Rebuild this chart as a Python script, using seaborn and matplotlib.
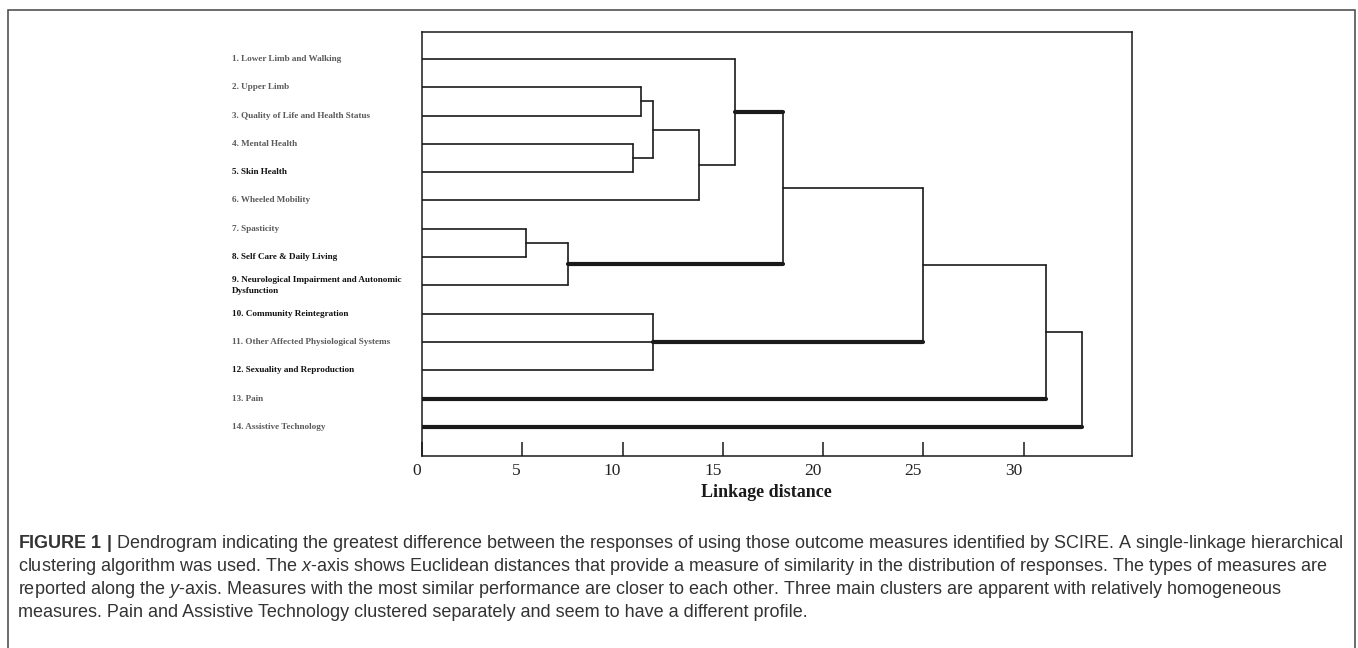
import numpy as np
import pandas as pd
import matplotlib
matplotlib.use("Agg")
import matplotlib.pyplot as plt
import matplotlib.transforms as mtrans
from matplotlib.patches import Rectangle
import seaborn as sns

# ============================
# STYLE
# ============================
sns.set_style("white")
plt.rcParams["font.family"] = ["Liberation Serif", "DejaVu Serif"]
plt.rcParams["mathtext.fontset"] = "custom"
plt.rcParams["mathtext.rm"] = "Liberation Sans"
plt.rcParams["mathtext.it"] = "Liberation Sans:italic"
plt.rcParams["mathtext.bf"] = "Liberation Sans:bold"

# ============================
# DATA
# ============================
leaf_labels = [
    "1. Lower Limb and Walking",
    "2. Upper Limb",
    "3. Quality of Life and Health Status",
    "4. Mental Health",
    "5. Skin Health",
    "6. Wheeled Mobility",
    "7. Spasticity",
    "8. Self Care & Daily Living",
    "9. Neurological Impairment and Autonomic\nDysfunction",
    "10. Community Reintegration",
    "11. Other Affected Physiological Systems",
    "12. Sexuality and Reproduction",
    "13. Pain",
    "14. Assistive Technology",
]
# labels printed darker in the original figure
label_dark = [False, False, False, False, True, False, False,
              True, True, True, False, True, False, False]

# merges: leaves are 0..13, every merge creates node 14, 15, ...
merge_children = [
    (1, 2),        # 14
    (3, 4),        # 15
    (14, 15),      # 16
    (16, 5),       # 17
    (0, 17),       # 18
    (6, 7),        # 19
    (19, 8),       # 20
    (18, 20),      # 21
    (9, 10, 11),   # 22
    (21, 22),      # 23
    (23, 12),      # 24
    (24, 13),      # 25
]
merge_heights = [10.9, 10.5, 11.5, 13.8, 15.6, 5.2, 7.3, 18.0, 11.5, 25.0, 31.1, 32.9]

# branches drawn with a heavy line
bold_branches = [18, 20, 22, 12, 13]

x_ticks = [0, 5, 10, 15, 20, 25, 30]

caption_lines = [
    r"$\mathbf{FIGURE\ 1\ |}$ Dendrogram indicating the greatest difference between the responses of using those outcome measures identified by SCIRE. A single-linkage hierarchical",
    r"clustering algorithm was used. The $\mathit{x}$-axis shows Euclidean distances that provide a measure of similarity in the distribution of responses. The types of measures are",
    r"reported along the $\mathit{y}$-axis. Measures with the most similar performance are closer to each other. Three main clusters are apparent with relatively homogeneous",
    "measures. Pain and Assistive Technology clustered separately and seem to have a different profile.",
]

# ============================
# DENDROGRAM SEGMENTS
# ============================
n = len(leaf_labels)
node_y = {i: i + 1.0 for i in range(n)}
node_h = {i: 0.0 for i in range(n)}
rows = []
seg = 0
for k, (kids, h) in enumerate(zip(merge_children, merge_heights)):
    nid = n + k
    ys = [node_y[c] for c in kids]
    node_y[nid] = float(np.mean(ys))
    node_h[nid] = h
    for c in kids:
        w = "thick" if c in bold_branches else "thin"
        rows += [(seg, node_h[c], node_y[c], w), (seg, h, node_y[c], w)]
        seg += 1
    rows += [(seg, h, min(ys), "thin"), (seg, h, max(ys), "thin")]
    seg += 1
segs = pd.DataFrame(rows, columns=["seg", "dist", "pos", "weight"])

# ============================
# FIGURE
# ============================
fig = plt.figure(figsize=(13.58, 6.48), dpi=100)
ax = fig.add_axes([0.3108, 0.2963, 0.5228, 0.6543])

sns.lineplot(data=segs, x="dist", y="pos", units="seg", estimator=None, sort=False,
             size="weight", sizes={"thin": 1.2, "thick": 3.0},
             color="#1a1a1a", legend=False, ax=ax)

ax.set_xlim(0, 35.4)
ax.set_ylim(15.03, 0.05)
ax.set_yticks([])
ax.set_ylabel("")
ax.set_xticks(x_ticks, [str(t) for t in x_ticks])
ax.tick_params(axis="x", bottom=True, direction="in", length=10, width=1.1,
               color="#1a1a1a", pad=5, labelsize=12.5, labelcolor="#222222")
shift = mtrans.ScaledTranslation(-1.5 / 100, 0, fig.dpi_scale_trans)
for t in ax.xaxis.get_major_ticks():
    t.label1.set_horizontalalignment("right")
    t.label1.set_transform(t.label1.get_transform() + shift)
for sp in ax.spines.values():
    sp.set_visible(True)
    sp.set_linewidth(1.1)
    sp.set_color("#1a1a1a")

ax.set_xlabel("Linkage distance", fontsize=13, fontweight="bold", color="#1a1a1a")
ax.xaxis.set_label_coords(0.485, -0.067)

# leaf labels (left aligned, away from the axis)
for i, lab in enumerate(leaf_labels):
    ax.text(-0.2676, i + 1, lab, transform=ax.get_yaxis_transform(),
            ha="left", va="center", fontsize=6.6, fontweight="bold", linespacing=1.5,
            color="#111111" if label_dark[i] else "#5a5a5a")

# outer frame
fig.add_artist(Rectangle((8 / 1358, -0.1), 1347 / 1358, 1.1 - 10 / 648,
                         transform=fig.transFigure, fill=False, lw=1.1, ec="#444444"))

# caption
cap_y = [548, 571, 594, 617]
caps = [fig.text(18 / 1358, 1 - y / 648, s, ha="left", va="baseline", fontsize=12,
                 family="Liberation Sans", color="#333333")
        for s, y in zip(caption_lines, cap_y)]
renderer = fig.canvas.get_renderer()
w0 = caps[0].get_window_extent(renderer).width
for c in caps:
    c.set_fontsize(12 * 1325 / w0)

fig.savefig("out.png", dpi=100)
